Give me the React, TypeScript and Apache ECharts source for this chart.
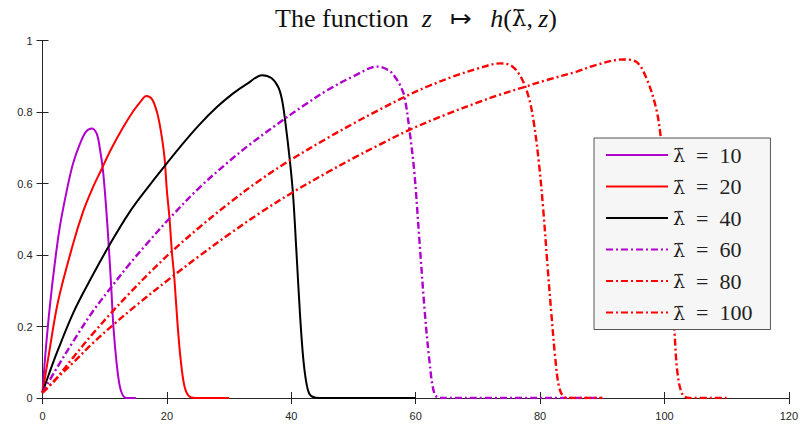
import React, { useEffect, useRef } from "react";
import * as echarts from "echarts";

const seriesNames = ["λ̄ = 10", "λ̄ = 20", "λ̄ = 40", "λ̄ = 60", "λ̄ = 80", "λ̄ = 100"];
const lambdaValues = ["10", "20", "40", "60", "80", "100"];
const seriesColors = ["#b000cc", "#ff0000", "#000000", "#b000cc", "#ff0000", "#ff0000"];
const seriesDashed = [false, false, false, true, true, true];

const x10 = [0, 0.5, 1.2, 2, 2.8, 3.9, 4.9, 6.0, 7.0, 7.9, 8.7, 9.2, 9.7, 10.2, 10.67, 11.05, 11.4, 11.9, 12.4, 12.9, 13.5, 15];
const y10 = [0.015, 0.13, 0.26, 0.38, 0.48, 0.58, 0.655, 0.71, 0.745, 0.754, 0.74, 0.70, 0.64, 0.54, 0.42, 0.31, 0.2, 0.1, 0.035, 0.008, 0, 0];

const x20 = [0, 1, 2.5, 4.9, 6.5, 8, 9.5, 11, 12.9, 14.5, 15.8, 16.7, 17.6, 18.4, 19.0, 19.6, 20.0, 20.4, 20.8, 21.2, 21.7, 22.2, 22.8, 23.5, 24.5, 30];
const y20 = [0.015, 0.12, 0.27, 0.43, 0.52, 0.585, 0.64, 0.695, 0.755, 0.8, 0.83, 0.845, 0.836, 0.8, 0.75, 0.675, 0.58, 0.507, 0.41, 0.335, 0.21, 0.11, 0.035, 0.006, 0, 0];

const x40 = [0, 1, 2.5, 5, 7.5, 10.67, 14, 17.2, 19.7, 22.5, 25.2, 28, 30.5, 33, 35.3, 36.8, 37.9, 38.5, 39.0, 39.8, 40.3, 40.86, 41.4, 41.9, 42.4, 42.9, 43.6, 44.5, 60];
const y40 = [0.015, 0.065, 0.135, 0.24, 0.325, 0.425, 0.52, 0.595, 0.65, 0.71, 0.764, 0.813, 0.85, 0.88, 0.903, 0.895, 0.87, 0.835, 0.778, 0.66, 0.565, 0.40, 0.235, 0.115, 0.045, 0.012, 0.002, 0, 0];

const x60 = [0, 2, 5, 8, 11.05, 14, 17.2, 20.4, 25.2, 30, 33.1, 37.9, 42, 45.9, 50, 53.9, 55.8, 56.8, 57.6, 58.2, 59.0, 59.8, 60.6, 61.4, 62.2, 63.0, 63.9, 90];
const y60 = [0.015, 0.075, 0.16, 0.24, 0.31, 0.375, 0.44, 0.502, 0.588, 0.662, 0.706, 0.768, 0.818, 0.862, 0.9, 0.927, 0.915, 0.895, 0.871, 0.843, 0.75, 0.629, 0.442, 0.255, 0.106, 0.013, 0, 0];

const x80 = [0, 2, 5, 8, 11.3, 14, 17.2, 20.8, 25.2, 30, 35, 39.8, 45.9, 50, 53.9, 58.2, 62, 66, 69.9, 73.6, 75.5, 77.0, 78.2, 79.0, 79.8, 80.5, 81.2, 81.8, 82.4, 83.0, 83.7, 84.5, 90];
const y80 = [0.015, 0.05, 0.115, 0.178, 0.243, 0.293, 0.35, 0.41, 0.477, 0.545, 0.61, 0.665, 0.728, 0.768, 0.804, 0.842, 0.872, 0.899, 0.921, 0.936, 0.928, 0.895, 0.84, 0.77, 0.66, 0.53, 0.37, 0.24, 0.12, 0.035, 0.005, 0, 0];

const x100 = [0, 2, 5, 8, 11.4, 15, 21.2, 25.2, 30, 35, 40.2, 45.9, 50, 53.9, 59, 65, 69.9, 73.1, 77.3, 81, 85.9, 89.1, 93.3, 95.4, 97.0, 98.6, 99.4, 100.1, 100.7, 101.2, 101.6, 102.1, 102.9, 104, 110];
const y100 = [0.015, 0.05, 0.1, 0.152, 0.205, 0.258, 0.344, 0.397, 0.458, 0.518, 0.575, 0.632, 0.671, 0.706, 0.75, 0.794, 0.826, 0.846, 0.869, 0.889, 0.913, 0.932, 0.947, 0.941, 0.899, 0.815, 0.731, 0.6, 0.45, 0.3, 0.19, 0.07, 0.01, 0, 0];

const xsAll = [x10, x20, x40, x60, x80, x100];
const ysAll = [y10, y20, y40, y60, y80, y100];

const xTicks = { min: 0, max: 120, interval: 20 };
const yTicks = { min: 0, max: 1, interval: 0.2 };

export default function App() {
  const ref = useRef<HTMLDivElement>(null);
  useEffect(() => {
    if (!ref.current) return;
    const chart = echarts.init(ref.current, null, { renderer: "svg" });
    const axisColor = "#262626";
    const tickFont = { fontFamily: "Liberation Sans", fontSize: 11, color: axisColor };
    const grid = { left: 42.5, top: 40.5, right: 8, bottom: 38 };
    const baseX = {
      type: "value",
      ...xTicks,
      axisLine: { show: true, lineStyle: { color: axisColor, width: 1 } },
      axisTick: { show: true, inside: true, length: 6, lineStyle: { color: axisColor } },
      splitLine: { show: false },
    };
    const baseY = {
      type: "value",
      ...yTicks,
      axisLine: { show: true, lineStyle: { color: axisColor, width: 1 } },
      axisTick: { show: true, inside: true, length: 6, lineStyle: { color: axisColor } },
      splitLine: { show: false },
    };
    const series = seriesNames.map((name, i) => ({
      name,
      type: "line",
      data: xsAll[i].map((x, k) => [x, ysAll[i][k]]),
      smooth: 0.35,
      symbol: "none",
      showSymbol: false,
      lineStyle: {
        color: seriesColors[i],
        width: seriesDashed[i] ? 2.4 : 2,
        type: seriesDashed[i] ? [7, 3, 2, 3] : "solid",
      },
      itemStyle: { color: seriesColors[i] },
      z: 2,
    }));
    chart.setOption({
      animation: false,
      backgroundColor: "#ffffff",
      grid,
      xAxis: [
        { ...baseX, position: "bottom", axisLabel: { ...tickFont, margin: 12 } },
        { ...baseX, position: "top", axisLabel: { show: false } },
      ],
      yAxis: [
        { ...baseY, position: "left", axisLabel: { ...tickFont, margin: 10 } },
        { ...baseY, position: "right", axisLabel: { show: false } },
      ],
      legend: {
        data: seriesNames,
        orient: "vertical",
        left: 594,
        top: 138,
        padding: [6, 18, 6, 11],
        itemWidth: 62,
        itemHeight: 14,
        itemGap: 9.5,
        backgroundColor: "#f6f6f6",
        borderColor: "#555555",
        borderWidth: 1,
        borderRadius: 0,
        z: 10,
        itemStyle: { opacity: 0 },
        formatter: (name: string) => {
          const idx = seriesNames.indexOf(name);
          return "{l|λ̄}{t|\u2002=\u2002" + lambdaValues[idx] + "}";
        },
        textStyle: {
          fontFamily: "Liberation Serif",
          fontSize: 21,
          color: "#222222",
          lineHeight: 22,
          rich: {
            l: { fontFamily: "DejaVu Serif", fontSize: 19, color: "#222222", lineHeight: 22 },
            t: { fontFamily: "Liberation Serif", fontSize: 22, color: "#222222", lineHeight: 22 },
          },
        },
      },
      graphic: [
        {
          type: "text",
          x: 416,
          y: 18,
          style: {
            text: "{n|The function\u2002}{i|z}{n|\u2002\u2009↦\u2002\u2009}{i|h}{n|(}{l|λ̄}{n|,\u2009}{i|z}{n|)}",
            align: "center",
            verticalAlign: "middle",
            rich: {
              n: { fontFamily: "Liberation Serif", fontSize: 26, fill: "#111111" },
              i: { fontFamily: "Liberation Serif", fontStyle: "italic", fontSize: 26, fill: "#111111" },
              l: { fontFamily: "DejaVu Serif", fontSize: 23, fill: "#111111" },
            },
          },
        },
      ],
      series,
    });
    return () => chart.dispose();
  }, []);
  return <div ref={ref} style={{ position: "fixed", left: 0, top: 0, width: 801, height: 436 }} />;
}
